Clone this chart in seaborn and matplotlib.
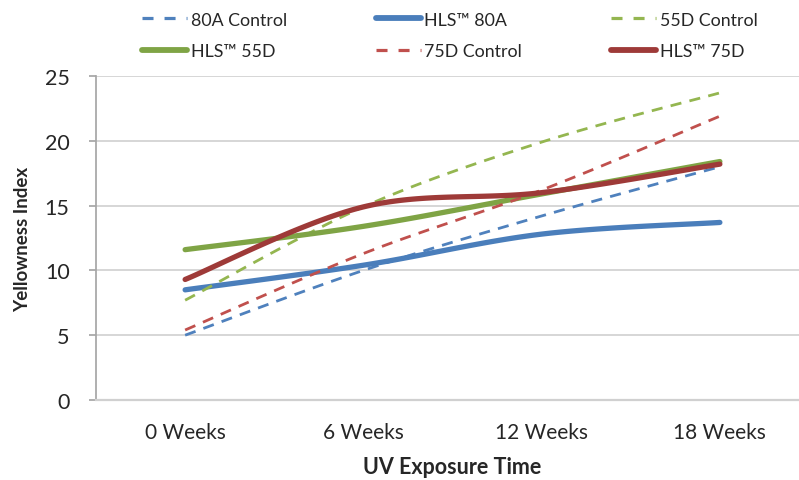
import numpy as np
import pandas as pd
import matplotlib
matplotlib.use("Agg")
import matplotlib.pyplot as plt
import seaborn as sns
from matplotlib.lines import Line2D

categories = ["0 Weeks", "6 Weeks", "12 Weeks", "18 Weeks"]
ctrl_80a = [5.0, 10.0, 14.2, 18.0]
hls_80a = [8.5, 10.4, 12.8, 13.7]
ctrl_55d = [7.7, 14.9, 19.9, 23.7]
hls_55d = [11.6, 13.4, 15.9, 18.4]
ctrl_75d = [5.4, 11.3, 16.2, 21.9]
hls_75d = [9.3, 14.9, 16.0, 18.2]
y_ticks = [0, 5, 10, 15, 20, 25]

series = [
    ("80A Control", ctrl_80a, "#4F81BD", "dashed", 2.0),
    ("HLS\u2122 80A", hls_80a, "#4A7EBB", "solid", 3.8),
    ("55D Control", ctrl_55d, "#94B650", "dashed", 2.0),
    ("HLS\u2122 55D", hls_55d, "#7FA445", "solid", 3.8),
    ("75D Control", ctrl_75d, "#C0504D", "dashed", 2.0),
    ("HLS\u2122 75D", hls_75d, "#9E3A38", "solid", 3.8),
]

def smooth(xs, ys, n=40):
    # Catmull-Rom style Bezier smoothing (like Excel's smoothed line)
    xs = np.asarray(xs, float); ys = np.asarray(ys, float)
    P = np.column_stack([xs, ys])
    out = []
    for i in range(len(P) - 1):
        p0 = P[i - 1] if i > 0 else P[i]
        p1 = P[i]; p2 = P[i + 1]
        p3 = P[i + 2] if i + 2 < len(P) else P[i + 1]
        c1 = p1 + (p2 - p0) / 6.0
        c2 = p2 - (p3 - p1) / 6.0
        t = np.linspace(0, 1, n, endpoint=(i == len(P) - 2))[:, None]
        b = (1 - t) ** 3 * p1 + 3 * (1 - t) ** 2 * t * c1 + 3 * (1 - t) * t ** 2 * c2 + t ** 3 * p2
        out.append(b)
    out = np.vstack(out)
    return out[:, 0], out[:, 1]

sns.set_theme(style="white")
plt.rcParams["font.family"] = ["Lato", "DejaVu Sans"]

fig = plt.figure(figsize=(7.99, 4.81), dpi=100)
ax = fig.add_axes([96 / 799, 1 - 401 / 481, (809 - 96) / 799, (401 - 77) / 481])

xpos = np.arange(len(categories))
handles = {}
for name, vals, color, ls, lw in series:
    sx, sy = smooth(xpos, vals)
    df = pd.DataFrame({"x": sx, "y": sy})
    sns.lineplot(data=df, x="x", y="y", ax=ax, color=color, linewidth=lw,
                 linestyle=ls, sort=False, estimator=None)
    ax.lines[-1].set_solid_capstyle("round")
    if ls == "dashed":
        ax.lines[-1].set_dashes([4, 3])
        ax.lines[-1].set_dash_capstyle("butt")
    h = Line2D([0], [0], color=color, linewidth=(4.2 if ls == "solid" else 2.3),
               linestyle=ls, solid_capstyle="round")
    if ls == "dashed":
        h.set_dashes([3.45, 3.45])
    handles[name] = h

ax.set_xlim(-0.5, 3.5)
ax.set_ylim(0, 25)
ax.set_yticks(y_ticks)
ax.set_xticks(xpos)
ax.set_xticklabels(categories, fontsize=15)
ax.set_yticklabels([str(v) for v in y_ticks], fontsize=15.5)
ax.yaxis.grid(True, color="#D0D0D0", linewidth=1.2)
ax.set_axisbelow(True)
for s in ["top", "right"]:
    ax.spines[s].set_visible(False)
ax.spines["left"].set_color("#A6A6A6")
ax.spines["bottom"].set_color("#D0D0D0")
ax.spines["bottom"].set_linewidth(1.6)
ax.tick_params(axis="y", which="both", left=True, length=5, color="#A6A6A6", pad=14)
ax.tick_params(axis="x", bottom=False, pad=10)
ax.set_xlabel("UV Exposure Time", fontsize=15.5, fontweight="bold", labelpad=10)
ax.set_ylabel("Yellowness Index", fontsize=13.5, fontweight="bold", labelpad=10)

order = ["80A Control", "HLS\u2122 55D", "HLS\u2122 80A", "75D Control",
         "55D Control", "HLS\u2122 75D"]
fig.legend([handles[k] for k in order], order, ncol=3, frameon=False,
           loc="upper left", bbox_to_anchor=(131 / 799, 1 - 2 / 481), fontsize=12.8,
           handlelength=2.55, handletextpad=0.2, columnspacing=5.0,
           labelspacing=0.85, borderaxespad=0.2)

fig.savefig("out.png", dpi=100)
